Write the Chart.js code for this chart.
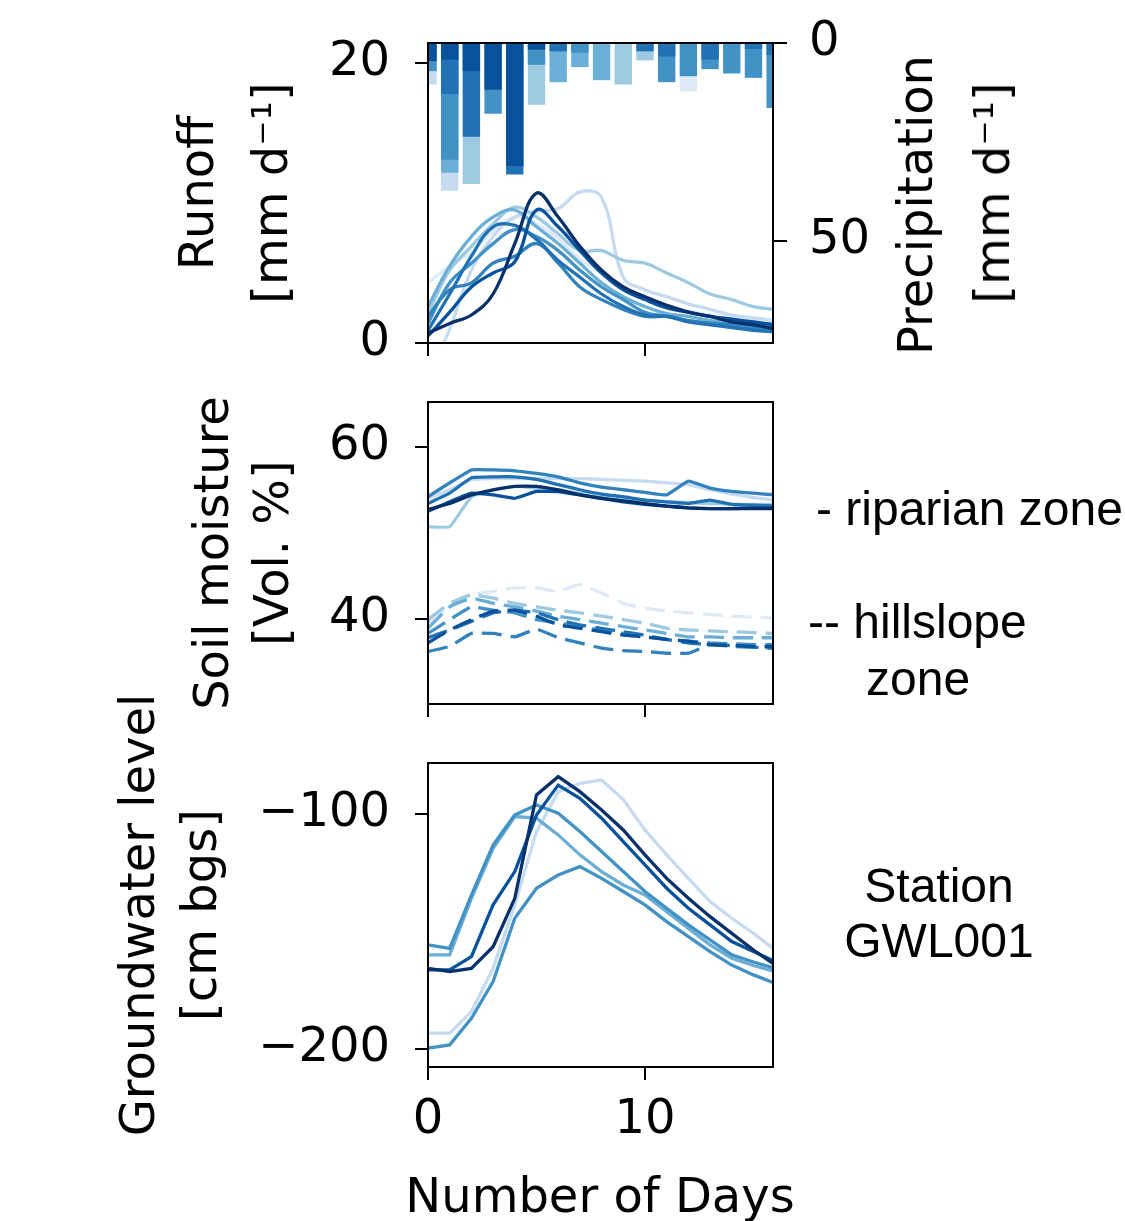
<!DOCTYPE html>
<html>
<head>
<meta charset="utf-8">
<script src="https://cdn.jsdelivr.net/npm/chart.js@4.4.1/dist/chart.umd.min.js"></script>
<style>
  body { margin: 0; background: #fff; }
  #page { position: relative; width: 1125px; height: 1221px; overflow: hidden; background: #fff; }
  canvas { position: absolute; left: 0; top: 0; }
  .note { position: absolute; font-family: 'Liberation Sans', Arial, sans-serif; font-size: 48px; color: #000; white-space: nowrap; }
  .dv { position: absolute; font-family: 'DejaVu Sans', sans-serif; font-size: 48px; line-height: 48px; color: #000; white-space: nowrap; }
  .rot { transform: translate(-50%, -50%) rotate(-90deg); }
</style>
</head>
<body>
<div id="page">
  <canvas id="runoff-chart" width="1125" height="1221"></canvas>
  <canvas id="soil-chart" width="1125" height="1221"></canvas>
  <canvas id="gw-chart" width="1125" height="1221"></canvas>

  <div class="dv rot" style="left: 915px; top: 205px;">Precipitation</div>
  <div class="dv rot" style="left: 992px; top: 193px;">[mm d⁻¹]</div>
  <div class="dv" style="left: 600px; top: 1171px; transform: translateX(-50%);">Number of Days</div>

  <div class="note" style="left: 816px; top: 481px; line-height: 55px;">- riparian zone</div>
  <div class="note" style="left: 808px; top: 593px; line-height: 57px;">-- hillslope</div>
  <div class="note" style="left: 866px; top: 650px; line-height: 57px;">zone</div>
  <div class="note" style="left: 839px; top: 858px; width: 200px; text-align: center; line-height: 55px;">Station<br>GWL001</div>
</div>

<script>
const days = [0, 1, 2, 3, 4, 5, 6, 7, 8, 9, 10, 11, 12, 13, 14, 15, 16];
const dayTicks = [0, 10];
const runoffTicks = [0, 20];
const precipTicks = [0, 50];
const soilTicks = [40, 60];
const gwTicks = [-200, -100];

// precipitation per event [mm/d], darkest event first (drawn on top)
const precip1 = [4.6, 4.2, 7.1, 11.8, 31.1, 1.7, 0, 0, 0, 0, 0, 0, 0, 0, 0, 0, 0];
const precip2 = [0, 12.9, 23.7, 0, 33.2, 0, 2.1, 0, 0, 0, 2.1, 3.4, 0, 4.2, 0, 1.5, 3.0];
const precip3 = [7.1, 29.5, 0, 17.9, 0, 5.5, 0, 2.5, 0, 0, 0, 9.9, 8.4, 6.6, 7.7, 8.8, 16.4];
const precip4 = [0, 32.8, 0, 0, 0, 0, 9.9, 6.1, 9.4, 0, 0, 0, 0, 0, 0, 0, 0];
const precip5 = [0, 0, 35.6, 0, 0, 15.6, 0, 0, 0, 10.5, 4.4, 0, 0, 0, 0, 0, 0];
const precip6 = [10.5, 37.3, 0, 0, 0, 0, 0, 0, 0, 0, 0, 0, 0, 0, 0, 0, 0];
const precip7 = [0, 0, 0, 0, 0, 0, 0, 0, 0, 0, 0, 0, 12.2, 0, 0, 0, 0];

// runoff [mm/d]
const runoff1 = [0.7, 1.4, 2.0, 3.5, 7.1, 10.7, 9.0, 6.9, 5.2, 4.0, 3.3, 2.7, 2.2, 1.9, 1.5, 1.3, 1.0];
const runoff2 = [0.5, 2.2, 4.0, 5.0, 5.8, 9.5, 8.3, 6.6, 5.0, 3.8, 3.1, 2.5, 2.2, 1.9, 1.7, 1.5, 1.3];
const runoff3 = [0.9, 3.5, 6.2, 8.3, 8.4, 7.4, 5.9, 4.7, 3.5, 2.6, 2.0, 1.9, 1.5, 1.3, 1.1, 0.9, 0.8];
const runoff4 = [1.9, 3.8, 4.3, 5.7, 6.2, 7.1, 5.7, 4.0, 3.1, 2.4, 1.9, 1.9, 1.6, 1.4, 1.3, 1.1, 0.9];
const runoff5 = [1.4, 4.3, 5.7, 7.1, 8.1, 7.6, 6.6, 5.2, 4.0, 3.1, 2.2, 1.9, 1.6, 1.4, 1.3, 1.2, 1.2];
const runoff6 = [2.6, 5.5, 7.6, 9.0, 9.5, 8.3, 7.1, 5.7, 4.3, 3.3, 2.6, 2.1, 1.9, 1.6, 1.5, 1.4, 1.3];
const runoff7 = [2.1, 5.2, 6.9, 8.5, 9.7, 9.0, 7.8, 6.6, 6.6, 5.9, 5.7, 5.0, 4.3, 3.5, 3.1, 2.6, 2.4];
const runoff8 = [-2.5, 1.0, 5.2, 7.6, 9.0, 9.4, 9.6, 10.8, 10.4, 4.7, 3.8, 3.3, 2.8, 2.4, 2.0, 1.8, 1.6];
const runoff9 = [4.3, 5.5, 6.5, 8.0, 9.0, 8.5, 7.5, 6.0, 5.0, 4.0, 3.2, 2.7, 2.3, 2.0, 1.8, 1.6, 1.5];

// soil moisture, riparian zone [Vol. %]
const ripar1 = [52.7, 53.4, 54.4, 55.0, 55.4, 55.4, 55.0, 54.4, 54.0, 53.7, 53.4, 53.1, 52.9, 52.8, 52.8, 52.8, 52.8];
const ripar2 = [52.5, 53.6, 54.6, 54.4, 54.0, 54.8, 54.8, 54.4, 54.0, 53.6, 53.3, 53.1, 52.9, 52.8, 52.8, 52.9, 52.9];
const ripar3 = [53.4, 54.6, 56.4, 56.5, 56.5, 56.2, 55.6, 55.0, 54.5, 54.2, 53.8, 53.6, 53.4, 53.8, 53.3, 53.2, 53.1];
const ripar4 = [54.2, 55.8, 57.3, 57.3, 57.2, 56.9, 56.5, 55.8, 55.3, 55.0, 54.7, 54.4, 56.0, 55.2, 54.8, 54.6, 54.4];
const ripar5 = [50.7, 50.7, 54.2, 55.0, 55.4, 55.2, 55.0, 54.6, 54.3, 54.0, 53.8, 53.6, 53.5, 53.4, 53.3, 53.3, 53.3];
const ripar6 = [54.0, 55.0, 56.2, 56.3, 56.3, 56.3, 56.3, 56.3, 56.2, 56.1, 56.0, 55.8, 55.6, 55.0, 54.5, 54.1, 53.8];

// soil moisture, hillslope zone [Vol. %]
const hill1 = [37.2, 38.7, 39.9, 40.9, 41.0, 40.3, 39.3, 38.9, 38.5, 38.1, 37.9, 37.6, 37.4, 37.0, 36.9, 36.8, 36.8];
const hill2 = [37.8, 38.7, 39.7, 40.7, 41.0, 40.7, 39.9, 39.3, 38.9, 38.5, 38.1, 37.6, 37.2, 37.0, 36.9, 36.7, 36.6];
const hill3 = [36.2, 36.8, 38.3, 38.3, 37.9, 38.8, 37.8, 37.2, 36.6, 36.3, 36.2, 36.0, 36.0, 37.0, 36.8, 36.7, 36.6];
const hill4 = [38.3, 39.9, 41.4, 41.0, 40.7, 39.9, 39.5, 39.1, 38.7, 38.3, 37.9, 37.6, 37.4, 37.2, 37.1, 37.0, 37.0];
const hill5 = [38.9, 41.4, 42.4, 41.8, 41.4, 40.9, 40.3, 39.9, 39.5, 39.1, 38.7, 38.3, 37.9, 37.9, 37.8, 37.8, 37.8];
const hill6 = [39.9, 41.8, 42.8, 42.4, 41.8, 41.4, 41.0, 40.7, 40.3, 39.9, 39.5, 38.9, 38.7, 38.6, 38.5, 38.4, 38.3];
const hill7 = [39.5, 41.4, 42.8, 43.2, 43.6, 43.6, 43.2, 44.0, 43.0, 41.8, 41.2, 40.9, 40.7, 40.5, 40.3, 40.2, 40.1];

// groundwater level GWL001 [cm bgs]
const gw1 = [-165.7, -167.1, -165.7, -156.5, -135.9, -91.9, -84.1, -90.5, -98.3, -106.8, -117.4, -127.4, -135.9, -143.7, -150.8, -157.9, -164.3];
const gw2 = [-166.4, -166.4, -160.7, -138.7, -124.5, -100.4, -87.7, -93.3, -101.8, -111.8, -121.7, -131.6, -140.1, -147.2, -154.3, -158.5, -162.8];
const gw3 = [-155.7, -157.2, -134.5, -113.2, -100.4, -96.2, -99.7, -107.5, -116.0, -124.5, -133.0, -140.1, -147.2, -153.6, -160.0, -163.0, -165.7];
const gw4 = [-160.0, -160.0, -135.9, -114.6, -101.1, -101.8, -108.9, -117.4, -124.5, -130.2, -134.5, -141.6, -148.7, -155.7, -161.4, -164.5, -167.1];
const gw5 = [-199.7, -198.3, -187.0, -171.3, -144.4, -131.6, -126.0, -122.4, -127.4, -133.0, -138.7, -145.8, -152.2, -158.6, -164.3, -168.5, -172.1];
const gw6 = [-193.3, -193.3, -184.1, -165.7, -138.7, -107.5, -90.5, -87.0, -85.5, -93.9, -106.8, -117.4, -127.4, -137.3, -144.4, -150.8, -157.9];

const precipColors = ['#08519c', '#2171b5', '#4292c6', '#6baed6', '#9ecae1', '#c6dbef', '#deebf7'];
const runoffColors = ['#08306b', '#08519c', '#2171b5', '#3182bd', '#4292c6', '#6baed6', '#9ecae1', '#c6dbef', '#deebf7'];
const riparColors = ['#08306b', '#08519c', '#2171b5', '#3182bd', '#9ecae1', '#c6dbef'];
const hillColors = ['#08519c', '#2171b5', '#3182bd', '#4292c6', '#6baed6', '#9ecae1', '#deebf7'];
const gwColors = ['#08306b', '#08519c', '#4292c6', '#6baed6', '#4292c6', '#c6dbef'];

Chart.defaults.font.family = "'DejaVu Sans', sans-serif";
Chart.defaults.font.size = 48;
Chart.defaults.color = '#000';

const pts = arr => days.map((d, i) => ({ x: d, y: arr[i] }));
const fixTicks = list => scale => { scale.ticks = list.map(v => ({ value: v })); };
const minus = v => String(v).replace('-', '\u2212');

// black box round the plot area
const frame = {
  id: 'frame',
  afterDatasetsDraw(chart) {
    const { ctx, chartArea: a } = chart;
    ctx.save();
    ctx.strokeStyle = '#000';
    ctx.lineWidth = 2;
    ctx.strokeRect(a.left, a.top, a.right - a.left, a.bottom - a.top);
    ctx.restore();
  }
};

function tickGrid(len) {
  return { drawOnChartArea: false, drawTicks: true, tickLength: len, color: '#000', lineWidth: 2, offset: false };
}

// fixed axis width, and no extra room asked for the end labels
function fitWidth(w) {
  return s => { s.width = w; s.paddingTop = 0; s.paddingBottom = 0; };
}

function dayAxis(showLabels, height) {
  return {
    type: 'linear',
    min: 0,
    max: 15.9,
    offset: false,
    afterBuildTicks: fixTicks(dayTicks),
    afterFit: s => { s.height = height; s.paddingLeft = 0; s.paddingRight = 0; },
    ticks: { display: showLabels, padding: 12, maxRotation: 0, autoSkip: false },
    grid: tickGrid(13),
    border: { display: false }
  };
}

function lineSet(arr, color, opts) {
  return Object.assign({
    type: 'line',
    data: pts(arr),
    borderColor: color,
    borderWidth: 3.3,
    pointRadius: 0,
    fill: false
  }, opts);
}

// runoff + precipitation
const runoffLines = [runoff1, runoff2, runoff3, runoff4, runoff5, runoff6, runoff7, runoff8, runoff9]
  .map((s, i) => lineSet(s, runoffColors[i], { tension: 0.4, yAxisID: 'y' }));
const precipBars = [precip1, precip2, precip3, precip4, precip5, precip6, precip7]
  .map((s, i) => ({
    type: 'bar',
    data: pts(s),
    backgroundColor: precipColors[i],
    borderWidth: 0,
    grouped: false,
    barPercentage: 0.8,
    categoryPercentage: 1.0,
    yAxisID: 'y2'
  }));

new Chart(document.getElementById('runoff-chart'), {
  type: 'bar',
  data: { datasets: runoffLines.concat(precipBars) },
  options: {
    responsive: false,
    animation: false,
    layout: { autoPadding: false, padding: { left: 164, right: 252, top: 43, bottom: 858 } },
    plugins: { legend: { display: false }, tooltip: { enabled: false } },
    scales: {
      x: dayAxis(false, 20),
      y: {
        position: 'left',
        min: 0,
        max: 21.43,
        afterBuildTicks: fixTicks(runoffTicks),
        afterFit: fitWidth(264),
        ticks: { padding: 25, autoSkip: false },
        grid: tickGrid(13),
        border: { display: false },
        title: { display: true, text: ['Runoff', '[mm d\u207b\u00b9]'], font: { size: 48, lineHeight: 74 / 48 }, padding: 0 }
      },
      y2: {
        position: 'right',
        reverse: true,
        min: 0,
        max: 75.8,
        afterBuildTicks: fixTicks(precipTicks),
        afterFit: fitWidth(100),
        ticks: { padding: 22, autoSkip: false },
        grid: tickGrid(14),
        border: { display: false }
      }
    }
  },
  plugins: [frame]
});

// soil moisture
const riparLines = [ripar1, ripar2, ripar3, ripar4, ripar5, ripar6]
  .map((s, i) => lineSet(s, riparColors[i], { tension: 0.1 }));
const hillLines = [hill1, hill2, hill3, hill4, hill5, hill6, hill7]
  .map((s, i) => lineSet(s, hillColors[i], { tension: 0.1, borderDash: [20, 9] }));

new Chart(document.getElementById('soil-chart'), {
  type: 'line',
  data: { datasets: riparLines.concat(hillLines) },
  options: {
    responsive: false,
    animation: false,
    layout: { autoPadding: false, padding: { left: 186, right: 352, top: 402, bottom: 497 } },
    plugins: { legend: { display: false }, tooltip: { enabled: false } },
    scales: {
      x: dayAxis(false, 20),
      y: {
        position: 'left',
        min: 30.1,
        max: 65.2,
        afterBuildTicks: fixTicks(soilTicks),
        afterFit: fitWidth(428 - 186),
        ticks: { padding: 25, autoSkip: false },
        grid: tickGrid(13),
        border: { display: false },
        title: { display: true, text: ['Soil moisture', '[Vol. %]'], font: { size: 48, lineHeight: 60 / 48 }, padding: 0 }
      }
    }
  },
  plugins: [frame]
});

// groundwater
const gwLines = [gw1, gw2, gw3, gw4, gw5, gw6]
  .map((s, i) => lineSet(s, gwColors[i], { tension: 0 }));

new Chart(document.getElementById('gw-chart'), {
  type: 'line',
  data: { datasets: gwLines },
  options: {
    responsive: false,
    animation: false,
    layout: { autoPadding: false, padding: { left: 111, right: 352, top: 763, bottom: 0 } },
    plugins: { legend: { display: false }, tooltip: { enabled: false } },
    scales: {
      x: dayAxis(true, 1221 - 1067),
      y: {
        position: 'left',
        min: -207.7,
        max: -78.3,
        afterBuildTicks: fixTicks(gwTicks),
        afterFit: fitWidth(428 - 111),
        ticks: { padding: 25, autoSkip: false, callback: v => minus(v) },
        grid: tickGrid(13),
        border: { display: false },
        title: { display: true, text: ['Groundwater level', '[cm bgs]'], font: { size: 48, lineHeight: 62 / 48 }, padding: 0 }
      }
    }
  },
  plugins: [frame]
});
</script>
</body>
</html>
